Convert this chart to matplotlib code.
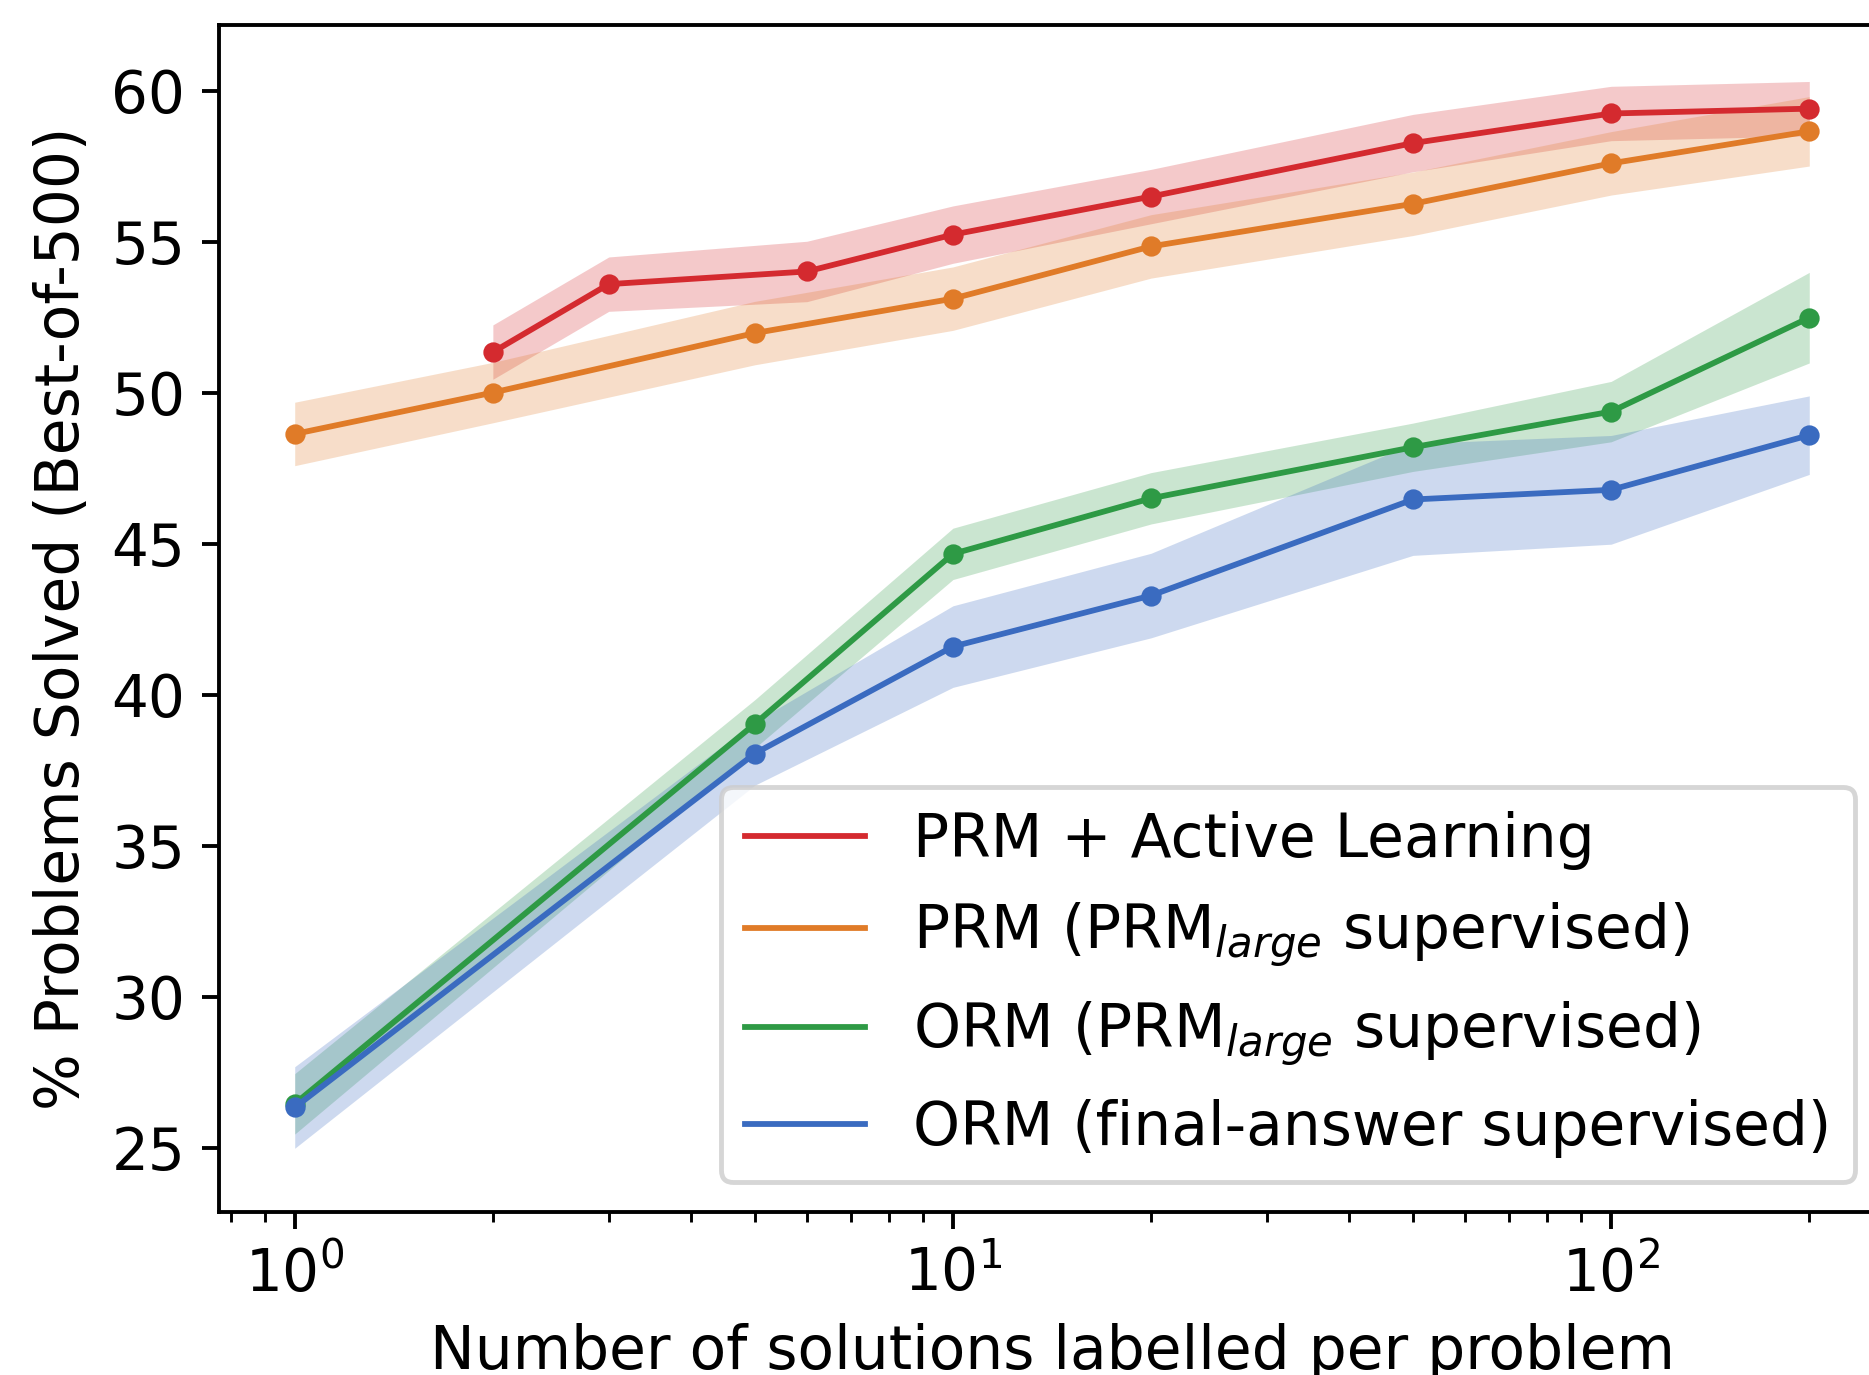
import matplotlib.pyplot as plt
import numpy as np

# values
x_al = [2, 3, 6, 10, 20, 50, 100, 200]
y_al = [51.35, 53.6, 54.02, 55.24, 56.5, 58.27, 59.25, 59.41]
e_al = [0.9, 0.9, 1.0, 0.95, 0.9, 0.95, 0.9, 0.9]

x_prm = [1, 2, 5, 10, 20, 50, 100, 200]
y_prm = [48.64, 50.01, 51.98, 53.12, 54.85, 56.26, 57.6, 58.66]
e_prm = [1.05, 1.0, 1.05, 1.05, 1.05, 1.05, 1.05, 1.15]

x_orm = [1, 5, 10, 20, 50, 100, 200]
y_orm = [26.46, 39.04, 44.67, 46.51, 48.2, 49.38, 52.49]
e_orm = [1.0, 0.8, 0.85, 0.85, 0.8, 1.0, 1.5]

x_fa = [1, 5, 10, 20, 50, 100, 200]
y_fa = [26.34, 38.06, 41.6, 43.29, 46.47, 46.79, 48.6]
e_fa = [1.35, 1.05, 1.35, 1.4, 1.85, 1.8, 1.3]

labels = ['PRM + Active Learning',
          'PRM (PRM$_{large}$ supervised)',
          'ORM (PRM$_{large}$ supervised)',
          'ORM (final-answer supervised)']
colors = ['#d42a2f', '#e07b28', '#2e9a45', '#3a6bc0']

plt.rcParams['font.size'] = 12
dpi = 348
fig = plt.figure(figsize=(1869 / dpi, 1375 / dpi), dpi=dpi)
# axes run past the right edge of the figure, as in the cropped original
ax = fig.add_axes([219 / 1869, 163 / 1375, 1666 / 1869, 1187 / 1375])

series = [(x_al, y_al, e_al), (x_prm, y_prm, e_prm),
          (x_orm, y_orm, e_orm), (x_fa, y_fa, e_fa)]
for (xs, ys, es), lab, c in zip(series, labels, colors):
    xs = np.array(xs); ys = np.array(ys); es = np.array(es)
    ax.fill_between(xs, ys - es, ys + es, color=c, alpha=0.25, lw=0)
    ax.plot(xs, ys, color=c, lw=1.2, marker='o', markersize=3.2, label=lab)

ax.set_xscale('log')
ax.set_ylim(22.88, 62.18)
ax.set_yticks([25, 30, 35, 40, 45, 50, 55, 60])
ax.set_xlabel('Number of solutions labelled per problem', fontsize=12.4)
ax.set_ylabel('% Problems Solved (Best-of-500)', fontsize=12.4)

handles = [plt.Line2D([], [], color=c, lw=1.2) for c in colors]
ax.legend(handles, labels, loc='lower right', fontsize=12.4)

fig.savefig('out.png', dpi=dpi)
